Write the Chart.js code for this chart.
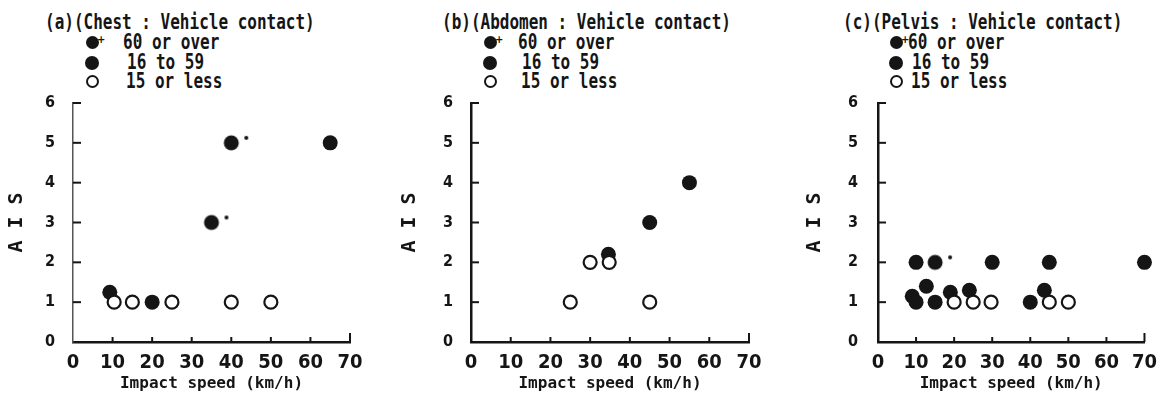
<!DOCTYPE html>
<html>
<head>
<meta charset="utf-8">
<script src="https://cdn.jsdelivr.net/npm/chart.js@4.4.1/dist/chart.umd.min.js"></script>
<style>
  body { margin: 0; background: #fff; }
  #wrap { position: relative; width: 1166px; height: 393px; overflow: hidden; background: #fff; }
  #wrap canvas { position: absolute; top: 0; }
  .lbl {
    position: absolute; font-family: 'DejaVu Sans Mono', monospace; font-weight: bold;
    font-size: 16px; line-height: 16px; height: 16px; color: #151515; white-space: pre;
    transform: scaleY(1.3); transform-origin: left center;
  }
  .mk { position: absolute; border-radius: 50%; box-sizing: border-box; }
  .plus { position: absolute; font: bold 10px 'DejaVu Sans', sans-serif; color: #151515; line-height: 10px; }
</style>
</head>
<body>
<div id="wrap"></div>
<script>
// ---- data ----
const panelTitles = [
  '(a)(Chest : Vehicle contact)',
  '(b)(Abdomen : Vehicle contact)',
  '(c)(Pelvis : Vehicle contact)'
];
const ageGroups = ['60 or over', '16 to 59', '15 or less'];
const speedRange = [0, 70];   // impact speed km/h
const aisRange = [0, 6];
const xAxisLabel = 'Impact speed (km/h)';
const yAxisLabel = 'A I S';

// chest
const chestOld = [{x: 40, y: 5}, {x: 35, y: 3}];
const chestAdult = [{x: 65, y: 5}, {x: 9.3, y: 1.25}, {x: 20, y: 1}];
const chestChild = [{x: 10.4, y: 1}, {x: 15, y: 1}, {x: 25, y: 1}, {x: 40, y: 1}, {x: 50, y: 1}];

// abdomen
const abdomenOld = [];
const abdomenAdult = [{x: 55, y: 4}, {x: 45, y: 3}, {x: 34.6, y: 2.2}];
const abdomenChild = [{x: 30, y: 2}, {x: 34.8, y: 2}, {x: 25, y: 1}, {x: 45, y: 1}];

// pelvis
const pelvisOld = [{x: 15, y: 2}];
const pelvisAdult = [
  {x: 10, y: 2}, {x: 30, y: 2}, {x: 45, y: 2}, {x: 70, y: 2},
  {x: 9, y: 1.15}, {x: 10, y: 1}, {x: 12.7, y: 1.4}, {x: 15, y: 1},
  {x: 19, y: 1.25}, {x: 24, y: 1.3}, {x: 40, y: 1}, {x: 43.7, y: 1.3}
];
const pelvisChild = [{x: 20, y: 1}, {x: 25, y: 1}, {x: 29.7, y: 1}, {x: 45, y: 1}, {x: 50, y: 1}];

// ---- layout / style ----
const INK = '#151515';
const MONO = "'DejaVu Sans Mono', monospace";
const NARROW = "'Liberation Sans Narrow', 'DejaVu Sans Condensed', 'Liberation Sans', sans-serif";

const panels = [
  {old: chestOld, adult: chestAdult, child: chestChild,
   left: 0, width: 389, plotLeft: 73, plotRight: 350, titleX: 45, markX: 92, textX: 123,
   yTitlePad: 5, yTickPad: 18, dashed: true},
  {old: abdomenOld, adult: abdomenAdult, child: abdomenChild,
   left: 389, width: 389, plotLeft: 471, plotRight: 749, titleX: 442, markX: 490, textX: 518,
   yTitlePad: 9, yTickPad: 18, dashed: false},
  {old: pelvisOld, adult: pelvisAdult, child: pelvisChild,
   left: 778, width: 388, plotLeft: 878, plotRight: 1156, titleX: 843, markX: 896, textX: 908,
   yTitlePad: 25, yTickPad: 20, dashed: false}
];
const rowY = [42.5, 62.5, 81.5];
const wrap = document.getElementById('wrap');

// filled circle with the little "+" mark used for the 60-or-over group
function oldMarker() {
  const half = 20;
  const c = document.createElement('canvas');
  c.width = half * 2;
  c.height = half * 2;
  const g = c.getContext('2d');
  g.fillStyle = INK;
  g.beginPath(); g.arc(half, half, 7.5, 0, Math.PI * 2); g.fill();
  g.beginPath(); g.arc(half + 15, half - 5, 2, 0, Math.PI * 2); g.fill();
  return c;
}

// short inward tick marks like the original plotter axes
const innerTicks = {
  id: 'innerTicks',
  afterDraw(chart) {
    const {ctx, chartArea, scales: {x, y}} = chart;
    ctx.save();
    ctx.strokeStyle = INK;
    ctx.lineWidth = 2;
    y.ticks.forEach(t => {
      if (t.value === aisRange[0]) return;
      const py = y.getPixelForValue(t.value);
      ctx.beginPath(); ctx.moveTo(chartArea.left, py); ctx.lineTo(chartArea.left + 8, py); ctx.stroke();
    });
    x.ticks.forEach(t => {
      if (t.value === speedRange[0]) return;
      const px = x.getPixelForValue(t.value);
      const len = t.value === speedRange[1] ? 9 : 5;
      ctx.beginPath(); ctx.moveTo(px, chartArea.bottom); ctx.lineTo(px, chartArea.bottom - len); ctx.stroke();
    });
    ctx.restore();
  }
};

function addText(txt, x, yc, cls) {
  const d = document.createElement('div');
  d.className = cls || 'lbl';
  d.textContent = txt;
  d.style.left = x + 'px';
  d.style.top = (yc - 8) + 'px';
  wrap.appendChild(d);
  return d;
}

function addMark(cx, cy, d, filled) {
  const m = document.createElement('div');
  m.className = 'mk';
  m.style.width = d + 'px';
  m.style.height = d + 'px';
  m.style.left = (cx - d / 2) + 'px';
  m.style.top = (cy - d / 2) + 'px';
  if (filled) m.style.background = INK;
  else m.style.border = '2px solid ' + INK;
  wrap.appendChild(m);
}

const oldStyle = oldMarker();

panels.forEach((p, i) => {
  // title + legend
  addText(panelTitles[i], p.titleX, 22);
  addMark(p.markX, rowY[0], 13, true);
  const pl = document.createElement('div');
  pl.className = 'plus';
  pl.textContent = '+';
  pl.style.left = (p.markX + 5) + 'px';
  pl.style.top = (rowY[0] - 8) + 'px';
  wrap.appendChild(pl);
  addText(ageGroups[0], p.textX, rowY[0]);
  addMark(p.markX, rowY[1], 14, true);
  addText(ageGroups[1], p.textX + 4, rowY[1]);
  addMark(p.markX, rowY[2], 13, false);
  addText(ageGroups[2], p.textX + 3, rowY[2]);

  const cv = document.createElement('canvas');
  cv.width = p.width;
  cv.height = 393;
  cv.style.left = p.left + 'px';
  wrap.appendChild(cv);

  new Chart(cv.getContext('2d'), {
    type: 'scatter',
    data: {
      datasets: [
        {
          label: ageGroups[2],
          data: p.child,
          pointStyle: 'circle',
          pointRadius: 6.5,
          pointBorderWidth: 2.2,
          pointBackgroundColor: '#fff',
          pointBorderColor: INK,
          clip: false
        },
        {
          label: ageGroups[1],
          data: p.adult,
          pointStyle: 'circle',
          pointRadius: 7.5,
          pointBorderWidth: 0,
          pointBackgroundColor: INK,
          pointBorderColor: INK,
          clip: false
        },
        {
          label: ageGroups[0],
          data: p.old,
          pointStyle: oldStyle,
          pointRadius: 7.5,
          clip: false
        }
      ]
    },
    options: {
      responsive: false,
      animation: false,
      devicePixelRatio: 1,
      layout: {
        padding: {left: 0, top: 103, right: p.width - (p.plotRight - p.left), bottom: 0}
      },
      plugins: {
        legend: {display: false},
        tooltip: {enabled: false}
      },
      scales: {
        x: {
          type: 'linear',
          min: speedRange[0],
          max: speedRange[1],
          grid: {display: false, drawTicks: false},
          border: {display: true, color: INK, width: 2.5},
          ticks: {
            stepSize: 10,
            padding: 9,
            color: INK,
            maxRotation: 0,
            autoSkip: false,
            font: {family: NARROW, size: 20, weight: 'bold'}
          },
          title: {
            display: true,
            text: xAxisLabel,
            color: INK,
            padding: {top: 0, bottom: 0},
            font: {family: MONO, size: 16, weight: 'bold'}
          },
          afterFit: s => { s.height = 51; }
        },
        y: {
          type: 'linear',
          min: aisRange[0],
          max: aisRange[1],
          grid: {display: false, drawTicks: false},
          border: p.dashed
            ? {display: true, color: '#555', width: 1.5, dash: [7, 3]}
            : {display: true, color: INK, width: 2.5},
          ticks: {
            stepSize: 1,
            padding: p.yTickPad,
            color: INK,
            font: {family: NARROW, size: 16, weight: 'bold'}
          },
          title: {
            display: true,
            text: yAxisLabel,
            color: INK,
            padding: {top: p.yTitlePad, bottom: 0},
            font: {family: MONO, size: 20, weight: 'bold'}
          },
          afterFit: s => { s.width = p.plotLeft - p.left; }
        }
      }
    },
    plugins: [innerTicks]
  });
});
</script>
</body>
</html>
